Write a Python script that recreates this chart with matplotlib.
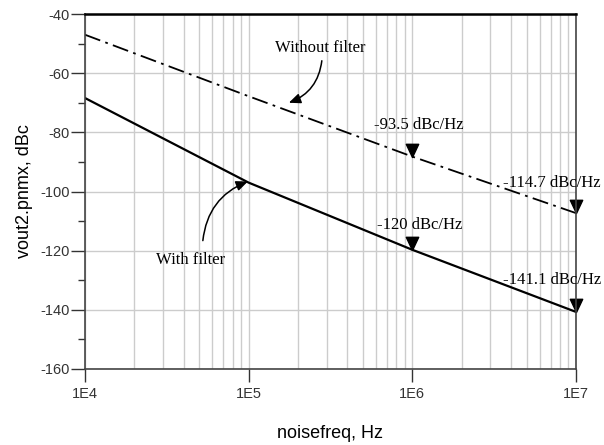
import matplotlib
matplotlib.use("Agg")
import matplotlib.pyplot as plt
from matplotlib.ticker import FixedLocator, FuncFormatter, LogLocator, NullFormatter
from matplotlib.path import Path
import numpy as np

plt.rcParams["axes.unicode_minus"] = False

# data
noisefreq = [1e4, 1e5, 1e6, 1e7]
without_filter = [-47.0, -67.8, -88.2, -107.3]
with_filter = [-68.4, -97.0, -119.7, -140.7]

marker_freq = [1e6, 1e7]
marker_without = [-88.2, -107.3]
marker_with = [-119.7, -140.7]
marker_text_without = ["-93.5 dBc/Hz", "-114.7 dBc/Hz"]
marker_text_with = ["-120 dBc/Hz", "-141.1 dBc/Hz"]

yticks = [-160, -140, -120, -100, -80, -60, -40]
xticks = [1e4, 1e5, 1e6, 1e7]

serif = ["Liberation Serif", "DejaVu Serif"]
sans = ["Liberation Sans", "DejaVu Sans"]

# down triangle with its tip at the data point
tri = Path([(-0.47, 1.0), (0.47, 1.0), (0.0, 0.0), (-0.47, 1.0)],
           [Path.MOVETO, Path.LINETO, Path.LINETO, Path.CLOSEPOLY])

fig = plt.figure(figsize=(6.04, 4.45), dpi=100)
ax = fig.add_axes([0.1407, 0.1708, 0.8129, 0.7977])

ax.plot(noisefreq, without_filter, color="black", lw=1.3, ls=(0, (9, 3, 1.5, 3)))
ax.plot(noisefreq, with_filter, color="black", lw=1.6)

ax.plot(marker_freq, marker_without, ls="none", marker=tri, ms=19, color="black", clip_on=False)
ax.plot(marker_freq, marker_with, ls="none", marker=tri, ms=19, color="black", clip_on=False)

ax.set_xscale("log")
ax.set_xlim(1e4, 1e7)
ax.set_ylim(-160, -40)

ax.xaxis.set_major_locator(FixedLocator(xticks))
ax.xaxis.set_minor_locator(LogLocator(base=10, subs=np.arange(2, 10)))
ax.xaxis.set_minor_formatter(NullFormatter())
ax.xaxis.set_major_formatter(FuncFormatter(lambda v, p: "1E%d" % round(np.log10(v))))
ax.yaxis.set_major_locator(FixedLocator(yticks))
ax.yaxis.set_minor_locator(FixedLocator([-150, -130, -110, -90, -70, -50]))

ax.grid(True, which="major", color="#cccccc", lw=1.0)
ax.grid(True, which="minor", axis="x", color="#cccccc", lw=1.0)
ax.set_axisbelow(True)

ax.tick_params(axis="x", which="major", direction="out", length=9, width=1.0,
               color="#333333", labelcolor="#333333", pad=4)
ax.tick_params(axis="x", which="minor", length=0)
ax.tick_params(axis="y", which="major", direction="out", length=10, width=1.0,
               color="#333333", labelcolor="#333333", pad=1)
ax.tick_params(axis="y", which="minor", direction="out", length=5, width=1.0, color="#333333")
for lab in ax.get_xticklabels() + ax.get_yticklabels():
    lab.set_family(sans)
    lab.set_fontsize(10.5)

for side in ["left", "bottom", "right"]:
    ax.spines[side].set_color("#444444")
    ax.spines[side].set_linewidth(1.2)
ax.spines["top"].set_color("black")
ax.spines["top"].set_linewidth(1.8)

ax.set_xlabel("noisefreq, Hz", family=sans, fontsize=13, labelpad=17)
ax.set_ylabel("vout2.pnmx, dBc", family=sans, fontsize=13, labelpad=5)

# marker readouts: (dx, dy) in points, horizontal alignment
offs_without = [((5, 23), "center"), ((18, 22), "right")]
offs_with = [((5, 18), "center"), ((18, 23), "right")]
for f, y, t, (o, ha) in zip(marker_freq, marker_without, marker_text_without, offs_without):
    ax.annotate(t, (f, y), xytext=o, textcoords="offset points",
                ha=ha, va="center", family=serif, fontsize=12)
for f, y, t, (o, ha) in zip(marker_freq, marker_with, marker_text_with, offs_with):
    ax.annotate(t, (f, y), xytext=o, textcoords="offset points",
                ha=ha, va="center", family=serif, fontsize=12)

# curve labels with curved pointers
arrow = dict(arrowstyle="-|>,head_length=0.7,head_width=0.3", color="black",
             lw=1.1, shrinkA=0, shrinkB=0)
ax.text(2.75e5, -51.5, "Without filter", ha="center", va="center", family=serif, fontsize=12)
ax.annotate("", xy=(1.76e5, -70.0), xytext=(2.8e5, -55.8),
            arrowprops=dict(arrow, connectionstyle="arc3,rad=-0.3"))
ax.text(4.4e4, -123.2, "With filter", ha="center", va="center", family=serif, fontsize=12)
ax.annotate("", xy=(9.9e4, -96.6), xytext=(5.25e4, -116.6),
            arrowprops=dict(arrow, connectionstyle="arc3,rad=-0.3"))

fig.savefig("out.png", dpi=100)
